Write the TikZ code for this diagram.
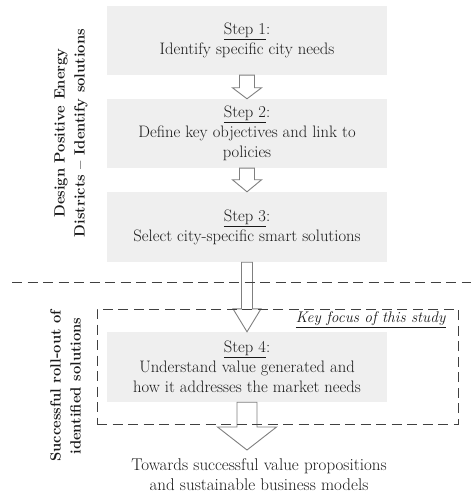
\documentclass[tikz,border=0pt]{standalone}
\usetikzlibrary{calc}
\definecolor{boxfill}{HTML}{EFEFEF}
\definecolor{arrowline}{HTML}{7F7F7F}
\definecolor{dashline}{HTML}{404040}
\definecolor{txt}{HTML}{1A1A1A}
\tikzset{
  stepbox/.style={fill=boxfill, draw=none, minimum width=280pt, minimum height=69pt,
    align=center, inner sep=0pt, text=txt, font=\fontsize{16.6}{20}\selectfont},
  blockarrow/.style={draw=arrowline, fill=white, line width=0.9pt, line join=miter},
  dashrule/.style={draw=dashline, line width=0.9pt, dash pattern=on 10pt off 5.5pt},
  sidelabel/.style={rotate=90, align=center, text=txt, font=\fontsize{14.8}{20}\selectfont\bfseries, inner sep=0pt},
  plaintext/.style={align=center, text=txt, font=\fontsize{17}{20}\selectfont, inner sep=0pt}
}
\newcommand\blkarrow[5]{%
  \draw[blockarrow] let \p1=(#1), \p2=(#2) in
    (\x1-#3pt,\y1) -- (\x1-#3pt,\y2+#5pt) -- (\x1-#4pt,\y2+#5pt) -- (\x1,\y2)
    -- (\x1+#4pt,\y2+#5pt) -- (\x1+#3pt,\y2+#5pt) -- (\x1+#3pt,\y1) -- cycle;}
\begin{document}
\begin{tikzpicture}[x=1pt,y=-1pt]
\path[use as bounding box] (0,0) rectangle (471,494);
\node[stepbox] (b1) at (247,40.5) {\underline{Step 1}:\\Identify specific city needs};
\node[stepbox] (b2) at (247,133.5) {\underline{Step 2}:\\Define key objectives and link to\\policies};
\node[stepbox, minimum height=70pt] (b3) at (247,227) {\underline{Step 3}:\\Select city-specific smart solutions};
\node[stepbox, minimum height=70pt] (b4) at (247,367) {\underline{Step 4}:\\Understand value generated and\\how it addresses the market needs};
\coordinate (tip4) at (247,450);
\blkarrow{b1.south}{b2.north}{7.5}{14.5}{11}
\blkarrow{b2.south}{b3.north}{7.5}{14.5}{12}
\blkarrow{b3.south}{b4.north}{5.5}{14}{23}
\blkarrow{b4.south}{tip4}{10}{29.5}{23}
\coordinate (dl) at (12,282);
\coordinate (dr) at (471,282);
\draw[dashrule] (dl) -- (dr);
\node[dashrule, minimum width=361pt, minimum height=115pt, inner sep=0pt] (focus) at (277.5,366.5) {};
\node[plaintext, anchor=east, font=\fontsize{15.4}{20}\selectfont] (kf) at (446,320) {\underline{\textit{Key focus of this study}}};
\node[plaintext] (out) at (259,475) {Towards successful value propositions\\and sustainable business models};
\node[sidelabel] (l1) at (71,133) {Design Positive Energy\\Districts -- Identify solutions};
\node[sidelabel] (l2) at (65.5,386) {Successful roll-out of\\identified solutions};
\end{tikzpicture}
\end{document}
